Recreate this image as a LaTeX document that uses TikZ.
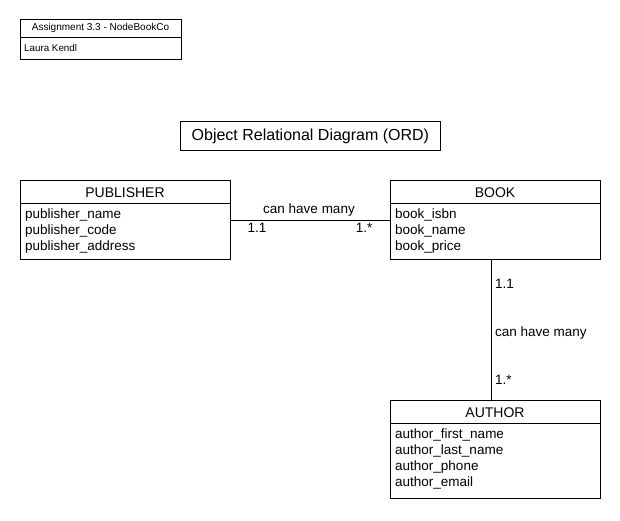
\documentclass[tikz,border=0pt]{standalone}
\usepackage{fontspec}
\setmainfont{Liberation Sans}
\begin{document}
\begin{tikzpicture}[x=1pt,y=-1pt,
  box/.style={draw,line width=0.8pt,anchor=north west,inner sep=0pt},
  hdr/.style={font=\fontsize{14}{16}\selectfont,anchor=center,inner sep=0pt},
  attr/.style={font=\fontsize{13.5}{16}\selectfont,anchor=north west,align=left,inner sep=0pt},
  lbl/.style={font=\fontsize{13.5}{16}\selectfont,inner sep=0pt},
  conn/.style={line width=0.8pt}]
\useasboundingbox (0,0) rectangle (620,520);
% assignment box
\node[box,minimum width=161,minimum height=40] (asg) at (20,19) {};
\draw[line width=0.8pt] (20,37) -- (181,37);
\node[font=\fontsize{10}{12}\selectfont,inner sep=0pt] (asgt) at (100.5,28) {Assignment 3.3 - NodeBookCo};
\node[font=\fontsize{9.8}{12}\selectfont,anchor=west,inner sep=0pt] (asgn) at (24,47.5) {Laura Kendl};
% title
\node[box,minimum width=260,minimum height=29] (title) at (180,121) {};
\node[font=\fontsize{16}{18}\selectfont,inner sep=0pt] (titlet) at (title.center) {Object Relational Diagram (ORD)};
% publisher
\node[box,minimum width=210,minimum height=79] (pub) at (20,180) {};
\draw[line width=0.8pt] (20,203) -- (230,203);
\node[hdr] (pubh) at (125,192.5) {PUBLISHER};
\node[attr] (puba) at (25,209) {publisher\_name\\publisher\_code\\publisher\_address};
% book
\node[box,minimum width=210,minimum height=79] (book) at (390,180) {};
\draw[line width=0.8pt] (390,203) -- (600,203);
\node[hdr] (bookh) at (495,192.5) {BOOK};
\node[attr] (booka) at (395,209) {book\_isbn\\book\_name\\book\_price};
% author
\node[box,minimum width=210,minimum height=98] (auth) at (390,400) {};
\draw[line width=0.8pt] (390,423) -- (600,423);
\node[hdr] (authh) at (495,412.5) {AUTHOR};
\node[attr] (autha) at (395,429) {author\_first\_name\\author\_last\_name\\author\_phone\\author\_email};
% connectors
\coordinate (vx) at (491,0);
\draw[conn] (pub.east) -- (book.west);
\draw[conn] (book.south -| vx) -- (auth.north -| vx);
\node[lbl] (l1) at (309,210) {can have many};
\node[lbl] (l2) at (257,228) {1.1};
\node[lbl] (l3) at (364,228) {1.*};
\node[lbl,anchor=west] (l4) at (495,284) {1.1};
\node[lbl,anchor=west] (l5) at (495,333) {can have many};
\node[lbl,anchor=west] (l6) at (495,380) {1.*};
\end{tikzpicture}
\end{document}
